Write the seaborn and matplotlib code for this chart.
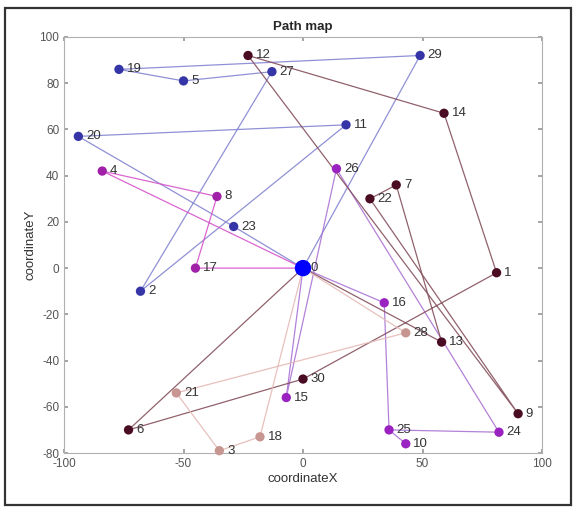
import matplotlib
matplotlib.use("Agg")
import matplotlib.pyplot as plt
import seaborn as sns
import pandas as pd
from matplotlib.patches import Rectangle

# Node coordinates (index = node id)
node_x = [0, 81, -68, -35, -84, -50, -73, 39, -36, 90, 43, 18, -23, 58, 59, -7,
          34, -45, -18, -77, -94, -53, 28, -29, 82, 36, 14, -13, 43, 49, 0]
node_y = [0, -2, -10, -79, 42, 81, -70, 36, 31, -63, -76, 62, 92, -32, 67, -56,
          -15, 0, -73, 86, 57, -54, 30, 18, -71, -70, 43, 85, -28, 92, -48]

# Routes (sequences of node ids)
route_blue = [0, 23, 20, 11, 2, 27, 5, 19, 29, 0]
route_magenta = [0, 17, 8, 4, 0]
route_purple = [0, 15, 26, 24, 25, 16, 0]
route_purple_branch = [25, 10]
route_dark = [0, 6, 30, 1, 14, 12, 9, 22, 7, 13, 0]
route_light = [0, 18, 3, 21, 28, 0]

routes = [route_blue, route_magenta, route_purple, route_purple_branch, route_dark, route_light]
route_line_colors = ["#8484d2", "#d655cc", "#ab74d4", "#ab74d4", "#85505c", "#e4baB6"]
route_dot_colors = ["#3535a8", "#a020a8", "#9a22c0", "#9a22c0", "#4a0c22", "#c89690"]

sns.set_theme(style="white")
plt.rcParams['font.family'] = ['Liberation Sans', 'DejaVu Sans']
plt.rcParams['axes.unicode_minus'] = False

fig = plt.figure(figsize=(5.76, 5.09), dpi=100)
ax = fig.add_axes([64/576, 1-453/509, (542-64)/576, (453-37)/509])

# draw lines
for r, lc in zip(routes, route_line_colors):
    df = pd.DataFrame({"x": [node_x[i] for i in r], "y": [node_y[i] for i in r]})
    sns.lineplot(data=df, x="x", y="y", sort=False, estimator=None, color=lc,
                 linewidth=0.9, alpha=0.9, ax=ax, clip_on=False)

# draw dots
dot_color = {}
for r, dc in zip(routes, route_dot_colors):
    for i in r:
        if i != 0:
            dot_color[i] = dc
ids = [i for i in range(1, len(node_x))]
pts = pd.DataFrame({"x": [node_x[i] for i in ids], "y": [node_y[i] for i in ids],
                    "id": [str(i) for i in ids]})
sns.scatterplot(data=pts, x="x", y="y", hue="id",
                palette={str(i): dot_color[i] for i in ids},
                s=45, edgecolor="none", legend=False, ax=ax, zorder=3, clip_on=False)
sns.scatterplot(x=[node_x[0]], y=[node_y[0]], color="#0000ff", s=140,
                edgecolor="none", legend=False, ax=ax, zorder=4)

for i in range(len(node_x)):
    ax.text(node_x[i] + 3.2, node_y[i], str(i), fontsize=9.5, color="#333333",
            va="center", ha="left", zorder=5)

ax.set_xlim(-100, 100)
ax.set_ylim(-80, 100)
ax.set_xticks([-100, -50, 0, 50, 100])
ax.set_yticks(list(range(-80, 101, 20)))
ax.tick_params(direction="in", length=3, labelsize=8.5, labelcolor="#555555",
               color="#999999", top=True, right=True, bottom=True, left=True)
for sp in ax.spines.values():
    sp.set_color("#b0b0b0")
    sp.set_linewidth(0.8)
ax.set_xlabel("coordinateX", fontsize=9.5, color="#333333", labelpad=2)
ax.set_ylabel("coordinateY", fontsize=9.5, color="#333333", labelpad=2)
ax.set_title("Path map", fontsize=9.5, fontweight="bold", pad=5)

# outer frame of the screenshot
fig.patches.append(Rectangle((5/576, 4/509), 566/576, 497/509, transform=fig.transFigure,
                             fill=False, edgecolor="#333333", linewidth=1.6))

fig.savefig("out.png", dpi=100)
